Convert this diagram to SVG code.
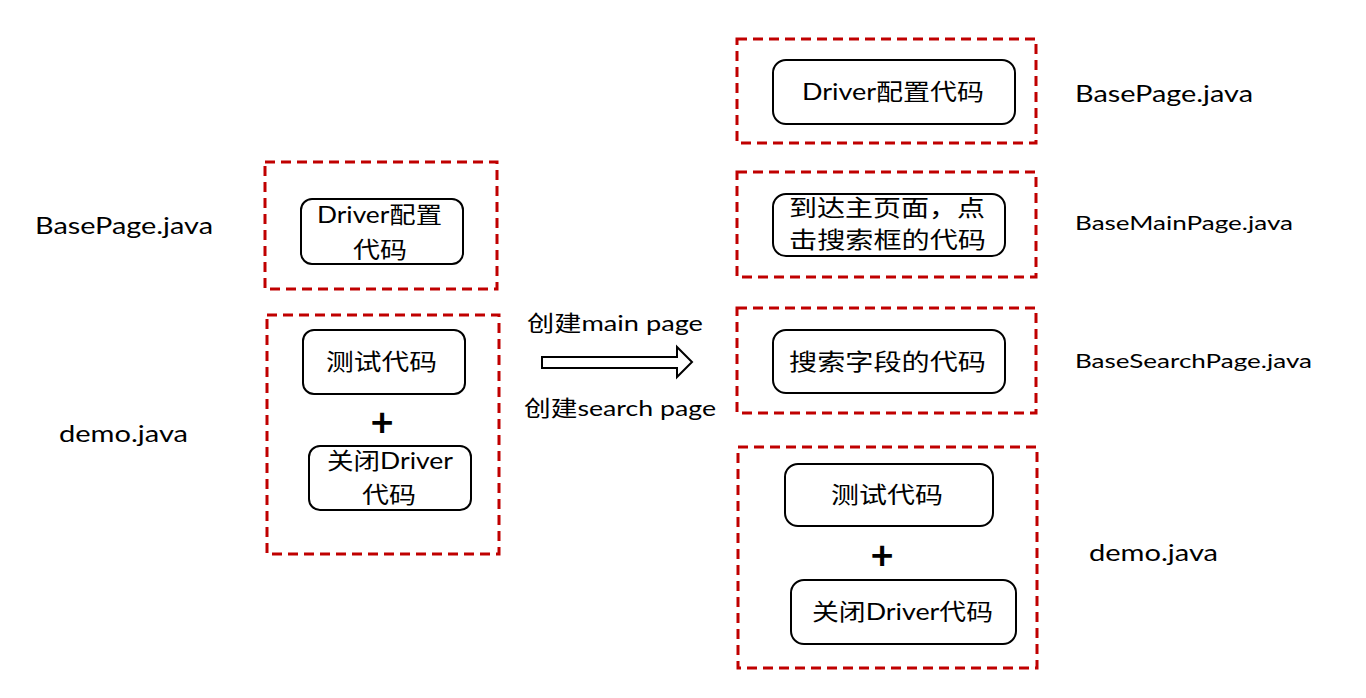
<svg xmlns="http://www.w3.org/2000/svg" width="1366" height="698" viewBox="0 0 1366 698">
<style>
.bg{fill:#ffffff}
.dash{fill:none;stroke:#C00000;stroke-width:3;stroke-dasharray:10 6}
.box{fill:#ffffff;stroke:#000000;stroke-width:2}
.t{font-family:"Lato","Noto Sans CJK SC",sans-serif;fill:#000000}
.lbl{font-size:23px}
.sm{font-size:19.5px}
.nt{font-size:23px}
.plus{font-family:"Lato","Noto Sans CJK SC",sans-serif;font-weight:bold;font-size:40px;fill:#000000}
.arrow{fill:#ffffff;stroke:#000000;stroke-width:2}
</style>
<rect class="bg" x="0" y="0" width="1366" height="698"/>

<g id="left-basepage">
  <rect class="dash" x="265" y="162" width="232" height="127"/>
  <rect class="box" x="301" y="199" width="162" height="65" rx="11"/>
  <text class="t nt" x="317" y="223" textLength="125" lengthAdjust="spacingAndGlyphs">Driver配置</text>
  <text class="t nt" x="353" y="258" textLength="54" lengthAdjust="spacingAndGlyphs">代码</text>
</g>

<g id="left-demo">
  <rect class="dash" x="267" y="315" width="232" height="239"/>
  <rect class="box" x="303" y="330" width="162" height="64" rx="11"/>
  <text class="t nt" x="326" y="370" textLength="111" lengthAdjust="spacingAndGlyphs">测试代码</text>
  <text class="plus" x="382" y="436" text-anchor="middle">+</text>
  <rect class="box" x="309" y="446" width="162" height="64" rx="11"/>
  <text class="t nt" x="327" y="469" textLength="126" lengthAdjust="spacingAndGlyphs">关闭Driver</text>
  <text class="t nt" x="362" y="503" textLength="54" lengthAdjust="spacingAndGlyphs">代码</text>
</g>

<g id="left-labels">
  <text class="t lbl" x="35" y="234" textLength="178" lengthAdjust="spacingAndGlyphs">BasePage.java</text>
  <text class="t lbl" x="59" y="442" textLength="129" lengthAdjust="spacingAndGlyphs">demo.java</text>
</g>

<g id="connectors">
  <polygon class="arrow" points="542,357 677,357 677,347 692,362 677,377 677,368 542,368"/>
  <text class="t" font-size="22" x="527" y="331" textLength="176" lengthAdjust="spacingAndGlyphs">创建main page</text>
  <text class="t" font-size="22" x="524" y="416" textLength="192" lengthAdjust="spacingAndGlyphs">创建search page</text>
</g>

<g id="right-basepage">
  <rect class="dash" x="737" y="39" width="299" height="104"/>
  <rect class="box" x="773" y="60" width="242" height="64" rx="13"/>
  <text class="t nt" x="802" y="100" textLength="182" lengthAdjust="spacingAndGlyphs">Driver配置代码</text>
</g>

<g id="right-mainpage">
  <rect class="dash" x="737" y="172" width="299" height="105"/>
  <rect class="box" x="773" y="194" width="232" height="62" rx="13"/>
  <text class="t nt" x="789" y="216" textLength="196" lengthAdjust="spacingAndGlyphs">到达主页面，点</text>
  <text class="t nt" x="789" y="248" textLength="197" lengthAdjust="spacingAndGlyphs">击搜索框的代码</text>
</g>

<g id="right-searchpage">
  <rect class="dash" x="737" y="308" width="299" height="105"/>
  <rect class="box" x="773" y="330" width="232" height="63" rx="13"/>
  <text class="t nt" x="789" y="370" textLength="197" lengthAdjust="spacingAndGlyphs">搜索字段的代码</text>
</g>

<g id="right-demo">
  <rect class="dash" x="738" y="447" width="299" height="221"/>
  <rect class="box" x="785" y="464" width="208" height="62" rx="13"/>
  <text class="t nt" x="831" y="503" textLength="112" lengthAdjust="spacingAndGlyphs">测试代码</text>
  <text class="plus" x="882" y="569" text-anchor="middle">+</text>
  <rect class="box" x="791" y="580" width="225" height="64" rx="13"/>
  <text class="t nt" x="812" y="620" textLength="181" lengthAdjust="spacingAndGlyphs">关闭Driver代码</text>
</g>

<g id="right-labels">
  <text class="t lbl" x="1075" y="102" textLength="178" lengthAdjust="spacingAndGlyphs">BasePage.java</text>
  <text class="t sm" x="1075" y="230" textLength="218" lengthAdjust="spacingAndGlyphs">BaseMainPage.java</text>
  <text class="t sm" x="1075" y="368" textLength="237" lengthAdjust="spacingAndGlyphs">BaseSearchPage.java</text>
  <text class="t lbl" x="1089" y="561" textLength="129" lengthAdjust="spacingAndGlyphs">demo.java</text>
</g>
</svg>
